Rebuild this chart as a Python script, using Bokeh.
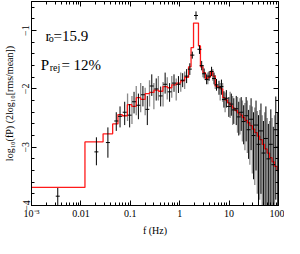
from bokeh.plotting import figure
from bokeh.models import Range1d, LogAxis, LinearAxis, FixedTicker, CustomJSTickFormatter, Label
from bokeh.embed import file_html
from bokeh.resources import INLINE

# model step bins (Hz) and model values log10(fP)
f_edges = [0.001, 0.01208, 0.02812, 0.04395, 0.05623, 0.06855, 0.08710, 0.1072, 0.1318,
           0.1622, 0.1995, 0.2455, 0.3020, 0.3715, 0.4571, 0.5623, 0.6918, 0.8511, 1.047,
           1.259, 1.514, 1.698, 1.905, 2.399, 2.630, 2.951, 3.311, 3.715, 4.169, 4.677,
           5.248, 5.888, 6.607, 7.413, 8.318, 9.333, 10.47, 11.75, 13.18, 14.79, 16.60,
           18.62, 20.89, 23.44, 26.30, 29.51, 33.11, 37.15, 41.69, 46.77, 52.48, 58.88,
           66.07, 74.13, 83.18, 93.33, 100.0]
model = [-3.69, -2.91, -2.77, -2.60, -2.44, -2.46, -2.27, -2.30, -2.15, -2.18, -2.08,
         -2.06, -2.02, -2.04, -1.96, -1.98, -1.93, -1.90, -1.86, -1.80, -1.62, -1.29,
         -0.87, -1.26, -1.62, -1.72, -1.82, -1.80, -1.70, -1.78, -1.95, -1.97, -2.00,
         -2.15, -2.19, -2.24, -2.29, -2.33, -2.37, -2.41, -2.45, -2.49, -2.54, -2.58,
         -2.63, -2.69, -2.75, -2.81, -2.87, -2.95, -3.03, -3.10, -3.18, -3.25, -3.33, -3.40]

# black data points
f_blk = [0.0034, 0.0206, 0.0352, 0.052, 0.062, 0.077, 0.097, 0.119, 0.146, 0.180, 0.221,
         0.272, 0.335, 0.412, 0.507, 0.624, 0.767, 0.944, 1.148, 1.380, 1.603, 1.799,
         2.138, 2.512, 2.786, 3.126, 3.508, 3.936, 4.416, 4.955, 5.559, 6.237, 6.998,
         7.852, 8.811, 9.886, 11.09, 12.45, 13.96, 15.67, 17.58, 19.72, 22.13, 24.83,
         27.86, 31.26, 35.08, 39.36, 44.16, 49.55, 55.59, 62.37, 69.98, 78.52, 88.11, 96.6]
p_blk = [-3.84, -3.08, -2.92, -2.55, -2.47, -2.40, -2.45, -2.22, -2.28, -2.10, -2.35,
         -1.95, -2.00, -2.12, -1.92, -2.05, -1.90, -1.92, -1.85, -1.78, -1.66, -1.42,
         -0.74, -1.32, -1.60, -1.74, -1.84, -1.78, -1.70, -1.82, -1.93, -1.98, -1.96,
         -2.18, -2.16, -2.30, -2.26, -2.36, -2.34, -2.48, -2.40, -2.56, -2.46, -2.70,
         -2.52, -2.80, -2.62, -2.95, -2.72, -3.10, -2.85, -3.20, -2.95, -3.30, -2.70, -3.00]
lo_blk = [-4.10, -3.31, -3.18, -2.72, -2.66, -2.62, -2.66, -2.42, -2.52, -2.30, -2.62,
          -2.12, -2.20, -2.30, -2.08, -2.22, -2.05, -2.07, -1.97, -1.90, -1.76, -1.48,
          -0.81, -1.40, -1.68, -1.82, -1.92, -1.86, -1.78, -1.92, -2.03, -2.10, -2.10,
          -2.32, -2.32, -2.48, -2.46, -2.60, -2.62, -2.80, -2.72, -2.95, -2.90, -3.20,
          -3.05, -3.55, -3.40, -4.10, -3.80, -4.10, -4.10, -4.10, -4.10, -4.10, -3.90, -4.10]
hi_blk = [-3.70, -2.83, -2.66, -2.40, -2.30, -2.22, -2.26, -2.05, -2.08, -1.95, -2.12,
          -1.75, -1.82, -1.96, -1.72, -1.90, -1.75, -1.78, -1.73, -1.66, -1.56, -1.36,
          -0.67, -1.25, -1.52, -1.65, -1.75, -1.70, -1.62, -1.72, -1.83, -1.86, -1.84,
          -2.04, -2.02, -2.14, -2.08, -2.16, -2.12, -2.22, -2.14, -2.28, -2.14, -2.36,
          -2.16, -2.40, -2.20, -2.45, -2.25, -2.55, -2.30, -2.60, -2.35, -2.65, -2.13, -2.40]

# grey data points
f_gry = [0.088, 0.108, 0.132, 0.162, 0.20, 0.245, 0.30, 0.37, 0.46, 0.56, 0.69, 0.85,
         1.05, 1.26, 2.95, 3.72, 4.68, 5.25, 6.6, 7.4, 8.3, 10.5, 11.8, 14.8, 16.6, 18.6,
         20.9, 23.4, 26.3, 29.5, 33.1, 37.2, 41.7, 46.8, 52.5, 58.9, 66.1, 74.1, 83.2]
p_gry = [-2.30, -2.35, -2.18, -2.12, -2.20, -2.05, -2.10, -1.98, -2.08, -1.98, -1.95,
         -2.00, -1.88, -1.84, -1.70, -1.82, -1.76, -1.88, -2.05, -2.05, -2.22, -2.25,
         -2.35, -2.40, -2.42, -2.48, -2.55, -2.55, -2.65, -2.70, -2.75, -2.85, -2.85,
         -3.00, -2.95, -3.05, -3.10, -3.15, -3.10]
lo_gry = [-2.55, -2.60, -2.45, -2.40, -2.45, -2.30, -2.35, -2.20, -2.30, -2.18, -2.15,
          -2.20, -2.05, -2.00, -1.80, -1.92, -1.86, -2.00, -2.20, -2.22, -2.40, -2.50,
          -2.62, -2.75, -2.78, -2.90, -3.05, -3.10, -3.30, -3.45, -3.65, -3.80, -3.90,
          -4.10, -4.10, -4.10, -4.10, -4.10, -4.10]
hi_gry = [-2.08, -2.12, -1.95, -1.90, -1.98, -1.85, -1.90, -1.78, -1.88, -1.80, -1.78,
          -1.82, -1.72, -1.70, -1.60, -1.72, -1.66, -1.76, -1.90, -1.90, -2.06, -2.05,
          -2.12, -2.14, -2.16, -2.20, -2.24, -2.20, -2.28, -2.30, -2.32, -2.38, -2.36,
          -2.45, -2.40, -2.50, -2.55, -2.50, -2.45]

x_major = [0.001, 0.01, 0.1, 1, 10, 100]
y_major = [-4, -3, -2, -1]

FONT = "Liberation Serif"

p = figure(width=284, height=238, x_axis_type="log",
           x_range=Range1d(0.001, 100), y_range=Range1d(-4, -0.5),
           output_backend="svg", toolbar_location=None,
           min_border_left=21, min_border_right=6, min_border_top=1, min_border_bottom=24)
p.grid.visible = False
p.outline_line_color = "black"
p.outline_line_width = 1

x_minor = [k * m for m in [0.001, 0.01, 0.1, 1, 10] for k in range(2, 10)]
y_minor = [round(-4 + 0.2 * i, 2) for i in range(18)]
xt = FixedTicker(ticks=x_major, minor_ticks=x_minor)
yt = FixedTicker(ticks=y_major, minor_ticks=y_minor)
xf = CustomJSTickFormatter(code="if (tick < 0.005) { return '10\u207b\u00b3'; } return String(tick);")
yf = CustomJSTickFormatter(code="return '\u2212' + Math.abs(tick);")
blank = CustomJSTickFormatter(code="return '';")


def style(ax):
    ax.major_tick_in = 5
    ax.major_tick_out = 0
    ax.minor_tick_in = 3
    ax.minor_tick_out = 0
    ax.axis_line_color = "black"
    ax.major_tick_line_color = "black"
    ax.minor_tick_line_color = "black"
    ax.major_label_text_font = FONT
    ax.major_label_text_font_size = "10px"
    ax.major_label_text_color = "black"
    ax.axis_label_text_font = FONT
    ax.axis_label_text_font_style = "normal"
    ax.axis_label_text_font_size = "10px"
    ax.axis_label_text_color = "black"


xa = p.xaxis[0]
xa.ticker = xt
xa.formatter = xf
style(xa)
xa.major_label_standoff = 2
xa.axis_label = "f (Hz)"
xa.axis_label_standoff = 3

ya = p.yaxis[0]
ya.ticker = yt
ya.formatter = yf
style(ya)
ya.major_label_orientation = "vertical"
ya.major_label_standoff = 2
ya.axis_label = "log\u2081\u2080(fP) (2log\u2081\u2080[rms/mean])"
ya.axis_label_standoff = 5

top = LogAxis(ticker=xt, formatter=blank)
style(top)
top.major_label_standoff = 0
p.add_layout(top, "above")
right = LinearAxis(ticker=yt, formatter=blank)
style(right)
right.major_label_standoff = 0
p.add_layout(right, "right")

# grey error bars
p.segment(x0=f_gry, y0=lo_gry, x1=f_gry, y1=hi_gry, line_color="#8a8a8a", line_width=1.3)
# red model
p.step(x=f_edges, y=model + [model[-1]], mode="after", line_color="#ff1a1a", line_width=1.3)
# black points
p.segment(x0=f_blk, y0=lo_blk, x1=f_blk, y1=hi_blk, line_color="black", line_width=1)
p.scatter(x=f_blk, y=p_blk, marker="dash", size=4, line_color="black", line_width=1)

big = "15px"
small = "10px"
for x, y, t, s in [(0.00192, -1.093, "r", big), (0.00223, -1.141, "o", small),
                   (0.00279, -1.093, "=15.9", big),
                   (0.00154, -1.588, "P", big), (0.00233, -1.626, "rej", small),
                   (0.00403, -1.588, "= 12%", big)]:
    p.add_layout(Label(x=x, y=y, text=t, text_font=FONT, text_font_size=s,
                       text_color="black", text_baseline="alphabetic", text_align="left"))

open("out.html", "w").write(file_html(p, INLINE))
